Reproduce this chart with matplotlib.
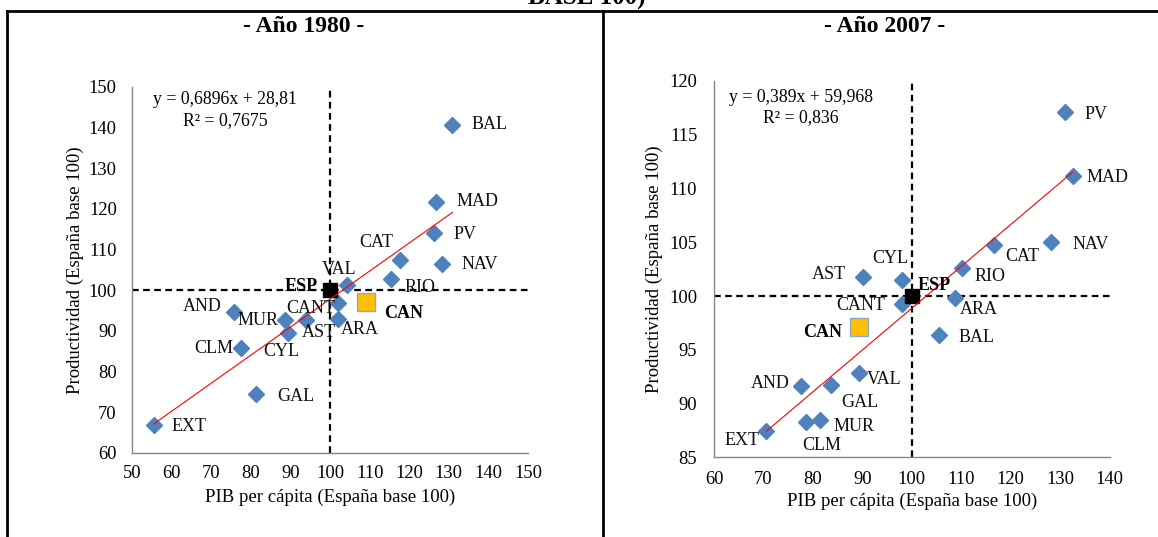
import matplotlib
matplotlib.use('Agg')
import matplotlib.pyplot as plt
from matplotlib.lines import Line2D

plt.rcParams['font.family'] = ['Liberation Serif', 'DejaVu Serif']

# ---------------- data ----------------
regions = ['BAL', 'MAD', 'PV', 'NAV', 'CAT', 'VAL', 'RIO', 'CANT', 'ARA',
           'AND', 'MUR', 'AST', 'CLM', 'CYL', 'GAL', 'EXT']

pib_1980 = [130.9, 126.8, 126.3, 128.3, 117.8, 104.4, 115.4, 102.1, 102.1,
            75.7, 88.7, 94.0, 77.5, 89.5, 81.4, 55.5]
prod_1980 = [140.7, 121.7, 114.1, 106.3, 107.5, 101.2, 102.8, 96.7, 92.8,
             94.7, 92.7, 92.7, 85.8, 89.5, 74.4, 66.8]

pib_2007 = [105.5, 132.5, 130.9, 128.2, 116.7, 89.3, 110.2, 98.0, 108.8,
            77.6, 81.4, 90.1, 78.6, 98.1, 83.6, 70.6]
prod_2007 = [96.4, 111.2, 117.1, 105.0, 104.7, 92.8, 102.6, 99.3, 99.8,
             91.6, 88.5, 101.8, 88.3, 101.5, 91.7, 87.4]

esp_1980 = [100.0, 100.0]
can_1980 = [109.0, 97.1]
esp_2007 = [100.0, 100.0]
can_2007 = [89.3, 97.1]

trend_1980 = [0.6896, 28.81]
trend_2007 = [0.389, 59.968]
eq_1980 = ['y = 0,6896x + 28,81', 'R² = 0,7675']
eq_2007 = ['y = 0,389x + 59,968', 'R² = 0,836']

xticks_1980 = list(range(50, 151, 10))
yticks_1980 = list(range(60, 151, 10))
xticks_2007 = list(range(60, 141, 10))
yticks_2007 = list(range(85, 121, 5))

# ---------------- label layout (pixel offsets) ----------------
lab_1980 = {
    'BAL': (19, 0, 'left'), 'MAD': (20, 0, 'left'), 'PV': (19, -2, 'left'),
    'NAV': (19, 0, 'left'), 'CAT': (-24, 17, 'center'), 'VAL': (-8, 16, 'center'),
    'RIO': (14, -9, 'left'), 'CANT': (-3, -5, 'right'), 'ARA': (3, -10, 'left'),
    'AND': (-12, 5, 'right'), 'MUR': (-7, -1, 'right'), 'AST': (-4, -13, 'left'),
    'CLM': (-8, -1, 'right'), 'CYL': (-7, -19, 'center'), 'GAL': (21, -2, 'left'),
    'EXT': (18, -1, 'left'),
}
lab_2007 = {
    'PV': (20, -2, 'left'), 'MAD': (14, -2, 'left'), 'NAV': (21, -2, 'left'),
    'CAT': (11, -11, 'left'), 'CYL': (-12, 21, 'center'), 'AST': (-17, 2, 'right'),
    'RIO': (12, -8, 'left'), 'CANT': (-17, -2, 'right'), 'ARA': (5, -11, 'left'),
    'BAL': (20, -3, 'left'), 'VAL': (8, -6, 'left'), 'GAL': (11, -17, 'left'),
    'AND': (-11, 3, 'right'), 'MUR': (14, -7, 'left'), 'CLM': (-4, -24, 'left'),
    'EXT': (-7, -9, 'right'),
}
esp_lab = {1980: (-12, 4, 'right'), 2007: (6, 11, 'left')}
can_lab = {1980: (18, -12, 'left'), 2007: (-17, -5, 'right')}

W, H = 1158, 537
fig = plt.figure(figsize=(W / 100, H / 100), dpi=100)

BLUE = '#4F81BD'
GRAY = '#868686'


def fx(px):
    return px / W


def fy(py):
    return 1 - py / H


def make_panel(rect, pib, prod, esp, can, trend, eq, xt, yt, labs, year,
               ylab_x, xlab_y, eq_pos, title_pos, ypad, xpad):
    ax = fig.add_axes(rect)
    ax.set_xlim(xt[0], xt[-1])
    ax.set_ylim(yt[0], yt[-1])
    ax.set_xticks(xt)
    ax.set_yticks(yt)
    for s in ['top', 'right']:
        ax.spines[s].set_visible(False)
    for s in ['left', 'bottom']:
        ax.spines[s].set_color(GRAY)
        ax.spines[s].set_linewidth(1)
    ax.tick_params(axis='both', length=0, labelsize=13.3)
    ax.tick_params(axis='y', pad=ypad)
    ax.tick_params(axis='x', pad=xpad)

    ax.axvline(esp[0], color='black', lw=1.6, ls=(0, (3, 2)), zorder=1)
    ax.axhline(esp[1], color='black', lw=1.6, ls=(0, (3, 2)), zorder=1)

    ax.plot(pib, prod, ls='none', marker='D', ms=8.3, color=BLUE, zorder=3)
    ax.plot([esp[0]], [esp[1]], ls='none', marker='s', ms=10.5,
            color='black', zorder=4)
    ax.plot([can[0]], [can[1]], ls='none', marker='s', ms=12.5,
            markerfacecolor='#FFC000', markeredgecolor='#8EA9C1',
            markeredgewidth=1, zorder=4)

    x0, x1 = min(pib), max(pib)
    ax.plot([x0, x1], [trend[0] * x0 + trend[1], trend[0] * x1 + trend[1]],
            color='#FF0000', lw=0.8, zorder=5)

    for name, x, y in zip(regions, pib, prod):
        dx, dy, ha = labs[name]
        ax.annotate(name, (x, y), xytext=(dx, dy), textcoords='offset pixels',
                    ha=ha, va='center', fontsize=13, color='#111111', zorder=6)
    dx, dy, ha = esp_lab[year]
    ax.annotate('ESP', (esp[0], esp[1]), xytext=(dx, dy),
                textcoords='offset pixels', ha=ha, va='center', fontsize=13,
                fontweight='bold', zorder=6)
    dx, dy, ha = can_lab[year]
    ax.annotate('CAN', (can[0], can[1]), xytext=(dx, dy),
                textcoords='offset pixels', ha=ha, va='center', fontsize=13,
                fontweight='bold', zorder=6)

    ax.set_ylabel('Productividad (España base 100)', fontsize=13.5)
    ax.yaxis.set_label_coords(ylab_x, 0.5)
    ax.set_xlabel('PIB per cápita (España base 100)', fontsize=13.5)
    ax.xaxis.set_label_coords(0.5, xlab_y)

    fig.text(fx(eq_pos[0]), fy(eq_pos[1]), eq[0], ha='center', va='center',
             fontsize=12.8)
    fig.text(fx(eq_pos[0]), fy(eq_pos[1] + 21), eq[1], ha='center',
             va='center', fontsize=12.8)
    fig.text(fx(title_pos[0]), fy(title_pos[1]), '- Año %d -' % year,
             ha='center', va='center', fontsize=17, fontweight='bold')
    return ax


# left panel: x 50->150 maps 132->528 px ; y 60->150 maps 452.7->86.7 px
make_panel([fx(132), fy(452.7), (528 - 132) / W, (452.7 - 86.7) / H],
           pib_1980, prod_1980, esp_1980, can_1980, trend_1980, eq_1980,
           xticks_1980, yticks_1980, lab_1980, 1980,
           ylab_x=-0.120, xlab_y=-0.098, eq_pos=(225, 100),
           title_pos=(304, 27), ypad=11, xpad=9)

# right panel: x 60->140 maps 714->1109.6 ; y 85->120 maps 457.3->81
make_panel([fx(714), fy(457.3), (1109.6 - 714) / W, (457.3 - 81) / H],
           pib_2007, prod_2007, esp_2007, can_2007, trend_2007, eq_2007,
           xticks_2007, yticks_2007, lab_2007, 2007,
           ylab_x=-0.130, xlab_y=-0.093, eq_pos=(801, 97),
           title_pos=(885, 27), ypad=12, xpad=10)

# frame lines
fig.add_artist(Line2D([fx(7), 1], [fy(11), fy(11)], transform=fig.transFigure,
                      color='black', lw=2))
fig.add_artist(Line2D([fx(7), fx(7)], [0, fy(11)], transform=fig.transFigure,
                      color='black', lw=2))
fig.add_artist(Line2D([fx(603), fx(603)], [0, fy(11)],
                      transform=fig.transFigure, color='black', lw=2))

# clipped remainder of the document heading (cut at the top as in the source)
fig.text(fx(587), fy(5), 'BASE 100)', ha='center', va='baseline',
         fontsize=18, fontweight='bold')

fig.savefig('out.png', dpi=100)
